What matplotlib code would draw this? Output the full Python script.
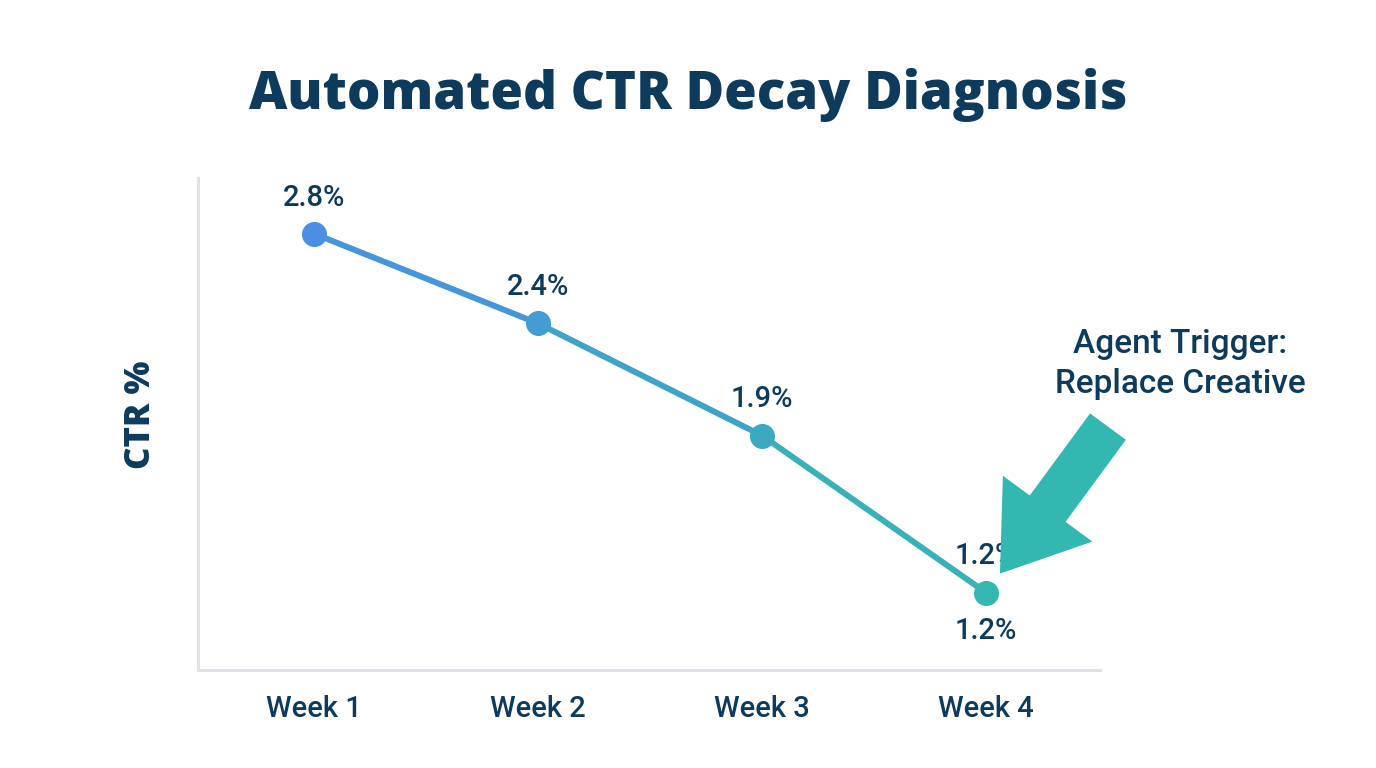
import numpy as np
import matplotlib
matplotlib.use("Agg")
from matplotlib import pyplot as plt
from matplotlib.colors import LinearSegmentedColormap, to_hex

weeks = ["Week 1", "Week 2", "Week 3", "Week 4"]
ctr = [2.8, 2.4, 1.9, 1.2]
ctr_labels = ["2.8%", "2.4%", "1.9%", "1.2%"]
annotation = "Agent Trigger:\nReplace Creative"

NAVY = "#0e3a5c"
AXIS = "#dde1e8"
ARROW = "#33b7b1"
grad = LinearSegmentedColormap.from_list("ctr", ["#4a8fe3", "#34b8b0"])
ROBOTO = ["Roboto", "DejaVu Sans"]
HEAVY = ["Open Sans", "DejaVu Sans"]

fig = plt.figure(figsize=(13.76, 7.68), dpi=100)
ax = fig.add_axes([0.1439, 0.1276, 0.6555, 0.6406])

x = np.arange(len(ctr))
t = x / (len(ctr) - 1)

# line segments, coloured along the gradient
for i in range(len(ctr) - 1):
    ax.plot(x[i:i + 2], ctr[i:i + 2], color=to_hex(grad((t[i] + t[i + 1]) / 2)),
            lw=4.3, solid_capstyle="round", zorder=2)
for i in range(len(ctr)):
    ax.plot(x[i], ctr[i], "o", ms=17, color=to_hex(grad(t[i])), zorder=3)

lab_font = dict(family=ROBOTO, fontsize=21, color=NAVY, fontweight="medium", ha="center")
for i in range(len(ctr)):
    ax.annotate(ctr_labels[i], (x[i], ctr[i]), xytext=(0, 26),
                textcoords="offset points", va="center", **lab_font)
# repeated label under the last point
ax.annotate(ctr_labels[-1], (x[-1], ctr[-1]), xytext=(0, -28),
            textcoords="offset points", va="center", **lab_font)

# trigger arrow pointing at the last week
ax.annotate("", xy=(x[-1], ctr[-1]), xytext=(122, 166), textcoords="offset pixels",
            arrowprops=dict(arrowstyle="simple,head_length=5.8,head_width=8,tail_width=3.2",
                            mutation_scale=10, color=ARROW, shrinkA=0, shrinkB=17, lw=0),
            zorder=4)
fig.text(1180 / 1376, 1 - 364 / 768, annotation, ha="center", va="center",
         family=ROBOTO, fontsize=24, fontweight="medium", color=NAVY, linespacing=1.35)

ax.set_xlim(-0.518, 3.509)
ax.set_ylim(0.855, 3.048)
ax.set_xticks(x)
ax.set_xticklabels(weeks, family=ROBOTO, fontsize=21, fontweight="medium", color=NAVY)
ax.set_yticks([])
ax.tick_params(axis="x", length=0, pad=18)
for side in ["top", "right"]:
    ax.spines[side].set_visible(False)
for side in ["left", "bottom"]:
    ax.spines[side].set_color(AXIS)
    ax.spines[side].set_linewidth(2.2)

fig.text(141 / 1376, 1 - 415 / 768, "CTR %", rotation=90, ha="center", va="center",
         family=HEAVY, fontsize=25, fontweight="heavy", color=NAVY)
fig.text(688 / 1376, 1 - 95 / 768, "Automated CTR Decay Diagnosis", ha="center",
         va="center", family=HEAVY, fontsize=38, fontweight="heavy", color=NAVY)

fig.savefig("out.png", dpi=100, facecolor="white")
